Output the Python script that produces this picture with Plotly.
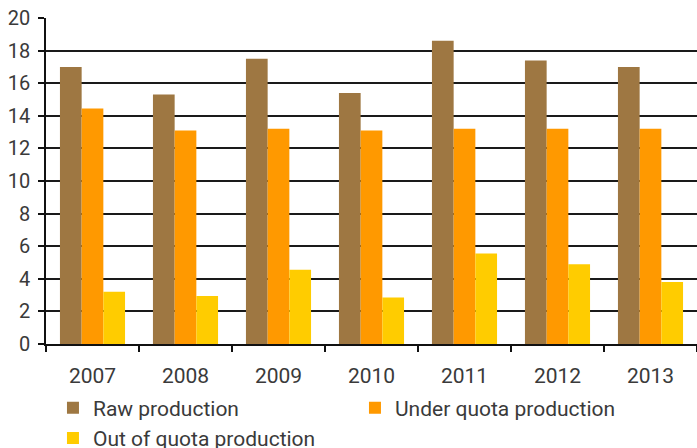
import plotly.graph_objects as go

years = ["2007", "2008", "2009", "2010", "2011", "2012", "2013"]
raw_production = [17.0, 15.3, 17.5, 15.4, 18.6, 17.4, 17.0]
under_quota = [14.45, 13.1, 13.2, 13.1, 13.2, 13.2, 13.2]
out_of_quota = [3.2, 2.95, 4.55, 2.85, 5.55, 4.9, 3.8]

series_names = ["Raw production", "Under quota production", "Out of quota production"]
colors = ["#9E7742", "#FF9900", "#FFCC00"]

fig = go.Figure()
for name, vals, col in zip(series_names, [raw_production, under_quota, out_of_quota], colors):
    fig.add_trace(go.Bar(x=years, y=vals, name=name, marker=dict(color=col, line=dict(width=0))))

font_family = "Roboto, sans-serif"
fig.update_layout(
    width=697, height=448,
    margin=dict(l=46, r=0, t=18, b=104, autoexpand=False),
    paper_bgcolor="white", plot_bgcolor="white",
    barmode="group", bargap=0.3, bargroupgap=0,
    font=dict(family=font_family, size=20, color="#3a3a3a"),
    xaxis=dict(
        type="category", tickson="boundaries", ticks="outside", ticklen=6,
        tickcolor="#111", tickwidth=1.5, showline=True, linecolor="#111", linewidth=1.5,
        showgrid=False, tickfont=dict(size=21, color="#3a3a3a"), automargin=False,
        ticklabelstandoff=12,
    ),
    yaxis=dict(
        range=[0, 20], dtick=2, ticks="outside", ticklen=6, tickcolor="#111", tickwidth=1.5,
        showline=True, linecolor="#111", linewidth=1.5,
        showgrid=True, gridcolor="#1a1a1a", gridwidth=1.5, zeroline=False,
        tickfont=dict(size=20, color="#3a3a3a"), automargin=False,
        ticklabelstandoff=4,
    ),
    showlegend=True,
    legend=dict(
        orientation="h", xref="container", yref="container",
        x=0.076, xanchor="left", y=0.135, yanchor="top",
        entrywidth=257, entrywidthmode="pixels", traceorder="normal",
        font=dict(size=21, color="#3a3a3a"), itemwidth=30, tracegroupgap=0,
        bgcolor="rgba(0,0,0,0)",
    ),
)

fig.write_html(
    "out.html",
    config={"displayModeBar": False},
    post_script="document.body.style.margin='0';document.body.style.padding='0';",
)
